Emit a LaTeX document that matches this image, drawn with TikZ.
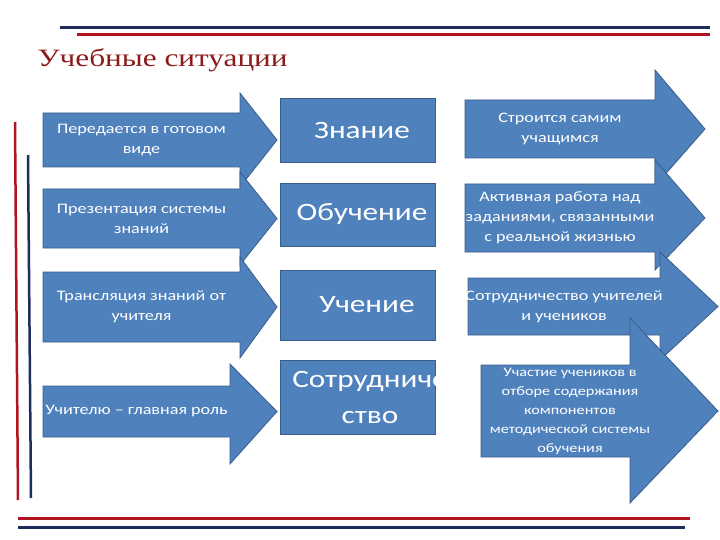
\documentclass[tikz,border=0pt]{standalone}
\usepackage{fontspec}
\setmainfont[FakeStretch=1.25]{Carlito}
\newfontfamily\titlefont[FakeStretch=1.25]{Liberation Serif}
\definecolor{bfill}{HTML}{4F81BD}
\definecolor{bedge}{HTML}{385D8A}
\definecolor{navy}{HTML}{1F2D5C}
\definecolor{dred}{HTML}{B0141E}
\definecolor{tred}{HTML}{8B1A1A}
\tikzset{
 arr/.style={fill=bfill,draw=bedge,line width=0.8pt},
 txt/.style={text=white,align=center,font=\fontsize{14.5}{20}\selectfont},
 big/.style={text=white,align=center,font=\fontsize{25}{36}\selectfont},
 rect/.style={fill=bfill,draw=bedge,line width=0.8pt},
}
\newcommand{\barrow}[9]{%
 \draw[arr] (#2,#5) -- (#3,#5) -- (#3,#7) -- (#4,{(#5+#6)/2}) -- (#3,#8) -- (#3,#6) -- (#2,#6) -- cycle;
 \node[txt] (#1) at ({(#2+#3)/2},{(#5+#6)/2}) {#9};}
\begin{document}
\begin{tikzpicture}[x=1pt,y=-1pt]
\useasboundingbox (0,0) rectangle (720,540);
\draw[navy,line width=3pt] (60,28) -- (710,28);
\draw[dred,line width=3pt] (77,35) -- (710,35);
\draw[dred,line width=3pt] (18,518) -- (690,518);
\draw[navy,line width=3pt] (18,527) -- (685,527);
\draw[dred,line width=2.5pt] (15,122) -- (18,500);
\draw[navy,line width=2.5pt] (28,155) -- (31,498);
\node[anchor=west,text=tred,font=\titlefont\fontsize{25}{28}\selectfont] (title) at (34,60) {Учебные ситуации};
\barrow{l1}{43}{240}{277}{113}{167}{93}{187}{Передается в готовом\\виде}
\barrow{l2}{43}{240}{277}{189}{248}{172}{265}{Презентация системы\\знаний}
\barrow{l3}{43}{240}{277}{272}{342}{257}{358}{Трансляция знаний от\\учителя}
\barrow{l4}{43}{230}{277}{386}{437}{364}{464}{Учителю – главная роль}
\draw[rect] (280,98) rectangle (435,162); \node[big] (m1) at (362,130) {Знание};
\draw[rect] (280,183) rectangle (435,246); \node[big] (m2) at (362,214.5) {Обучение};
\draw[rect] (280,270) rectangle (435,340); \node[big] (m3) at (367,305) {Учение};
\draw[rect] (280,360) rectangle (435,434); \node[big] (m4) at (370,397) {Сотрудниче\\ство};
\barrow{r1}{465}{655}{705}{100}{158}{70}{186}{Строится самим\\учащимся}
\barrow{r2}{465}{655}{705}{184}{252}{160}{270}{Активная работа над\\заданиями, связанными\\с реальной жизнью}
\barrow{r3}{468}{660}{718}{278}{335}{252}{360}{Сотрудничество учителей\\и учеников}
\draw[arr] (481,365) -- (630,365) -- (630,318) -- (718,411) -- (630,503) -- (630,457) -- (481,457) -- cycle;
\node[text=white,align=center,font=\fontsize{13}{19}\selectfont] (r4) at (570,411) {Участие учеников в\\отборе содержания\\компонентов\\методической системы\\обучения};
\end{tikzpicture}
\end{document}
